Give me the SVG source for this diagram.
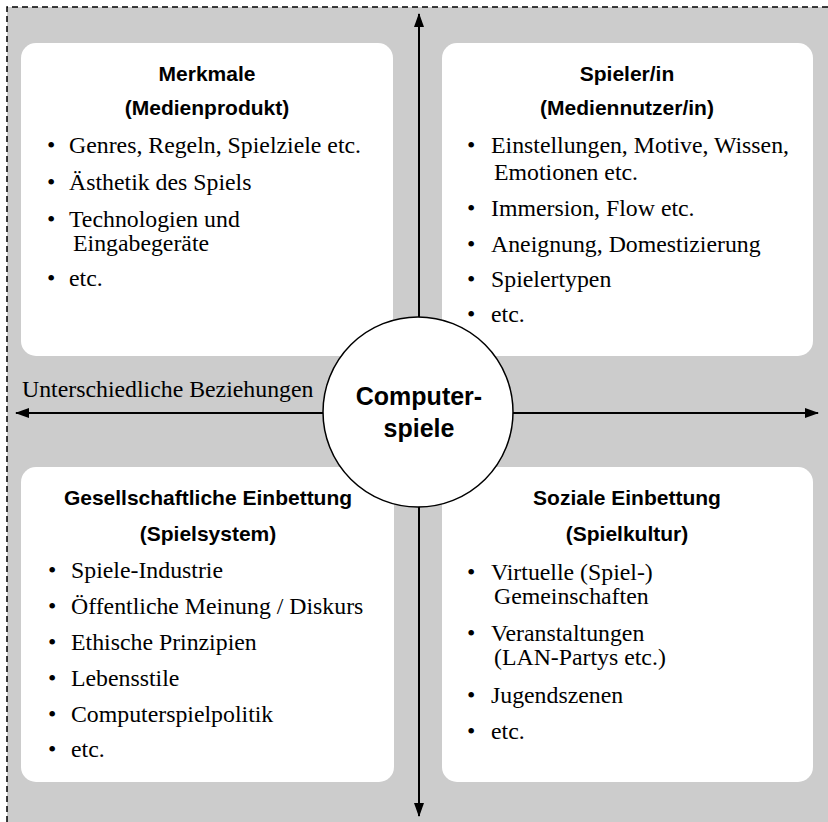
<svg xmlns="http://www.w3.org/2000/svg" width="828" height="822" viewBox="0 0 828 822">
<defs>
<style>
.box{fill:#fff;stroke:none}
.title{font-family:"Liberation Sans",Arial,sans-serif;font-weight:bold;font-size:21px;fill:#000;text-anchor:middle}
.item{font-family:"Liberation Serif","Times New Roman",serif;font-size:23.8px;fill:#000}
.center{font-family:"Liberation Sans",Arial,sans-serif;font-weight:bold;font-size:25px;fill:#000;text-anchor:middle}
.conn{stroke:#000;stroke-width:2;fill:none}
</style>
<marker id="ah" viewBox="0 0 14 10" refX="13" refY="5" markerWidth="14" markerHeight="10" markerUnits="userSpaceOnUse" orient="auto">
<path d="M0,0 L14,5 L0,10 Z" fill="#000"/>
</marker>
</defs>
<rect x="7" y="7" width="821" height="815" fill="#cccccc"/>
<path d="M7,822 L7,7 L828,7" fill="none" stroke="#000" stroke-width="1.5" stroke-dasharray="6,4"/>
<g id="connectors">
<line class="conn" x1="419" y1="412" x2="419" y2="14" marker-end="url(#ah)"/>
<line class="conn" x1="419" y1="412" x2="419" y2="816" marker-end="url(#ah)"/>
<line class="conn" x1="418" y1="413" x2="16" y2="413" marker-end="url(#ah)"/>
<line class="conn" x1="418" y1="413" x2="818" y2="413" marker-end="url(#ah)"/>
<text class="item" x="22" y="397">Unterschiedliche Beziehungen</text>
</g>
<g id="merkmale">
<rect class="box" x="21" y="43" width="372" height="313" rx="15"/>
<text class="title" x="207" y="81">Merkmale</text>
<text class="title" x="207" y="115">(Medienprodukt)</text>
<text class="item" x="47" y="153">•</text><text class="item" x="69" y="153">Genres, Regeln, Spielziele etc.</text>
<text class="item" x="47" y="190">•</text><text class="item" x="69" y="190">Ästhetik des Spiels</text>
<text class="item" x="47" y="227">•</text><text class="item" x="69" y="227">Technologien und</text>
<text class="item" x="73" y="251">Eingabegeräte</text>
<text class="item" x="47" y="286">•</text><text class="item" x="69" y="286">etc.</text>
</g>
<g id="spieler">
<rect class="box" x="442" y="43" width="371" height="313" rx="15"/>
<text class="title" x="627" y="81">Spieler/in</text>
<text class="title" x="627" y="115">(Mediennutzer/in)</text>
<text class="item" x="467" y="153">•</text><text class="item" x="491" y="153">Einstellungen, Motive, Wissen,</text>
<text class="item" x="494" y="180">Emotionen etc.</text>
<text class="item" x="467" y="216">•</text><text class="item" x="491" y="216">Immersion, Flow etc.</text>
<text class="item" x="467" y="252">•</text><text class="item" x="491" y="252">Aneignung, Domestizierung</text>
<text class="item" x="467" y="287">•</text><text class="item" x="491" y="287">Spielertypen</text>
<text class="item" x="467" y="322">•</text><text class="item" x="491" y="322">etc.</text>
</g>
<g id="gesellschaft">
<rect class="box" x="21" y="467" width="373" height="315" rx="15"/>
<text class="title" x="208" y="505">Gesellschaftliche Einbettung</text>
<text class="title" x="208" y="541">(Spielsystem)</text>
<text class="item" x="48" y="578">•</text><text class="item" x="71" y="578">Spiele-Industrie</text>
<text class="item" x="48" y="614">•</text><text class="item" x="71" y="614">Öffentliche Meinung / Diskurs</text>
<text class="item" x="48" y="650">•</text><text class="item" x="71" y="650">Ethische Prinzipien</text>
<text class="item" x="48" y="686">•</text><text class="item" x="71" y="686">Lebensstile</text>
<text class="item" x="48" y="722">•</text><text class="item" x="71" y="722">Computerspielpolitik</text>
<text class="item" x="48" y="757">•</text><text class="item" x="71" y="757">etc.</text>
</g>
<g id="sozial">
<rect class="box" x="442" y="467" width="371" height="315" rx="15"/>
<text class="title" x="627" y="505">Soziale Einbettung</text>
<text class="title" x="627" y="541">(Spielkultur)</text>
<text class="item" x="467" y="580">•</text><text class="item" x="491" y="580">Virtuelle (Spiel-)</text>
<text class="item" x="494" y="604">Gemeinschaften</text>
<text class="item" x="467" y="641">•</text><text class="item" x="491" y="641">Veranstaltungen</text>
<text class="item" x="494" y="665">(LAN-Partys etc.)</text>
<text class="item" x="467" y="703">•</text><text class="item" x="491" y="703">Jugendszenen</text>
<text class="item" x="467" y="739">•</text><text class="item" x="491" y="739">etc.</text>
</g>
<g id="computerspiele">
<circle cx="418" cy="412" r="95" fill="#fff" stroke="#000" stroke-width="1.5"/>
<text class="center" x="419" y="405">Computer-</text>
<text class="center" x="419" y="437">spiele</text>
</g>
</svg>
